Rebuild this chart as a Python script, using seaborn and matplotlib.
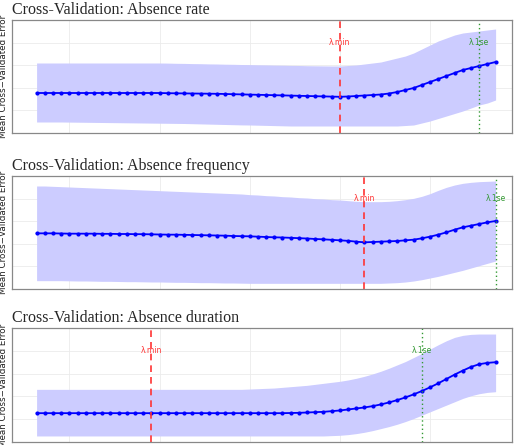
import numpy as np
import pandas as pd
import matplotlib
matplotlib.use("Agg")
import matplotlib.pyplot as plt
import seaborn as sns

titles = ["Cross-Validation: Absence rate",
          "Cross-Validation: Absence frequency",
          "Cross-Validation: Absence duration"]

rate_mean = [40] * 16 + [39.8, 39.7, 39.6, 39.5, 39.4, 39.3, 39.2, 39, 38.8, 38.6,
             38.4, 38.2, 38, 37.8, 37.6, 37.4, 37.2, 37, 36.8, 36.6, 36.4, 36.2,
             36.5, 37, 37.5, 38, 38.5, 39.5, 41, 43, 45, 48, 51, 54, 57, 60, 63, 65, 67, 69, 71]
rate_upper = [70] * 16 + [69.9, 69.7, 69.6, 69.4, 69.3, 69.1, 69, 68.8, 68.7, 68.5, 68.4,
              68.2, 68.1, 67.9, 67.8, 67.6, 67.5, 67.3, 67.2, 67.1, 67, 67,
              67.5, 68, 69, 70, 71, 73, 75, 77, 80, 84, 88, 92, 95, 98, 100, 101, 102, 103, 104]
rate_lower = [11, 11, 11, 11, 10.9, 10.8, 10.7, 10.6, 10.5, 10.4, 10.3, 10.2, 10.1, 10, 9.9, 9.8,
              9.7, 9.6, 9.5, 9.3, 9.1, 8.9, 8.7, 8.5, 8.3, 8.1, 8, 7.8, 7.6, 7.4, 7.2, 7, 7, 7, 7, 7, 7, 7,
              7, 7, 7, 7, 7, 7, 7, 7.5, 8, 10, 12, 14.5, 17, 19.5, 22, 25, 28, 30, 33]

freq_mean = [167, 167, 167, 166.5, 166, 166, 166, 166, 165.5, 165.5,
             165, 165, 164.5, 164.5, 164, 163.5, 163, 163, 162.5, 162,
             161.5, 161, 160.5, 160, 159, 158.5, 158, 157, 156, 155,
             154.5, 153.5, 152.5, 151.5, 150, 149, 147.5, 146, 144.5, 142, 140,
             141, 142, 143, 144, 146, 148, 152, 157, 163, 170, 178, 185, 190, 195, 200, 204]
freq_upper = [309, 309, 308, 307, 306, 305, 304, 303, 302, 301,
              300, 299, 298, 297, 296, 295, 294, 293, 292, 291,
              290, 289, 288, 287, 286, 285, 283, 282, 280, 279,
              277, 276, 274, 273, 271, 270, 268, 267, 265, 263, 262,
              262, 262, 263, 265, 268, 272, 278, 286, 296, 305, 312, 317, 320, 322, 323, 324]
freq_lower = [25, 25, 25, 25, 24.5, 24, 24, 23.5, 23, 23,
              22.5, 22, 22, 21.5, 21, 21, 20.5, 20, 20, 19.5,
              19, 19, 18.5, 18, 18, 17.5, 17, 17, 17, 17] + [17] * 11 + \
             [17, 17, 18, 19, 21, 24, 28, 33, 38, 44, 50, 56, 63, 70, 77, 84]

dur_mean = [86] * 31 + [86.5, 87, 88, 89, 90, 92, 94, 97, 100, 103, 107, 112, 118, 125, 133,
                        142, 152, 163, 175, 188, 201, 213, 224, 232, 236, 238]
dur_upper = [157] * 26 + [158, 159, 160, 161, 163, 165, 167, 169, 172, 175, 178, 181, 185, 190,
                          196, 203, 211, 220, 230, 240, 252, 264, 277, 290, 302, 312, 318, 321,
                          322, 322, 322]
dur_lower = [18] * 36 + [19, 20, 22, 25, 29, 34, 40, 46, 53, 61, 70, 80, 90, 100, 110, 120,
                         130, 138, 144, 148, 150]

means = [rate_mean, freq_mean, dur_mean]
uppers = [rate_upper, freq_upper, dur_upper]
lowers = [rate_lower, freq_lower, dur_lower]
lambda_min = [37, 40, 14]
lambda_1se = [54, 56, 47]
y_limits = [(0, 113), (0, 339), (0, 340)]

sns.set_style("whitegrid")
plt.rcParams["font.family"] = ["DejaVu Sans"]

fig = plt.figure(figsize=(5.2, 4.45), dpi=100)
# axes boxes in figure fractions (left, bottom, width, height)
boxes = [(12/520, 1 - 133/445, 500/520, 113/445),
         (12/520, 1 - 289/445, 500/520, 113/445),
         (12/520, 1 - 442/445, 500/520, 114/445)]

for i in range(3):
    ax = fig.add_axes(boxes[i])
    df = pd.DataFrame({"idx": np.arange(len(means[i])), "mean": means[i],
                       "lo": lowers[i], "hi": uppers[i]})
    ax.fill_between(df["idx"], df["lo"], df["hi"], color="#ccccff", linewidth=0)
    sns.lineplot(data=df, x="idx", y="mean", ax=ax, color="#0000ff", linewidth=1.3,
                 marker="o", markersize=3, markeredgewidth=0)
    ax.axvline(lambda_min[i], color="#ff3333", linestyle=(0, (4, 3)), linewidth=1.2)
    ax.axvline(lambda_1se[i], color="#339933", linestyle=(0, (1, 2)), linewidth=1.0)
    ax.text(lambda_min[i], 0.8, "λ.min", transform=ax.get_xaxis_transform(),
            ha="center", va="center", color="#ff3333", fontsize=5.5)
    ax.text(lambda_1se[i], 0.8, "λ.1se", transform=ax.get_xaxis_transform(),
            ha="center", va="center", color="#339933", fontsize=5.5)
    ax.set_xlim(-3, 58)
    ax.set_ylim(y_limits[i])
    ax.set_xticks([4, 15, 26, 37, 48])
    ax.set_yticks(np.linspace(y_limits[i][0], y_limits[i][1], 6)[1:5])
    ax.set_xticklabels([])
    ax.set_yticklabels([])
    ax.tick_params(length=0)
    ax.grid(color="#ebebeb", linewidth=0.6)
    for s in ax.spines.values():
        s.set_color("#888888")
        s.set_linewidth(0.9)
    ax.set_xlabel("")
    ax.set_ylabel("Mean Cross\u2212Validated Error", fontsize=6.3, color="#222222")
    ax.yaxis.set_label_coords(-0.016, 0.5)
    ax.yaxis.label.set_va("center")
    ax.set_title(titles[i], loc="left", fontsize=11.5, family="Liberation Serif", pad=4)

fig.savefig("out.png", dpi=100)
